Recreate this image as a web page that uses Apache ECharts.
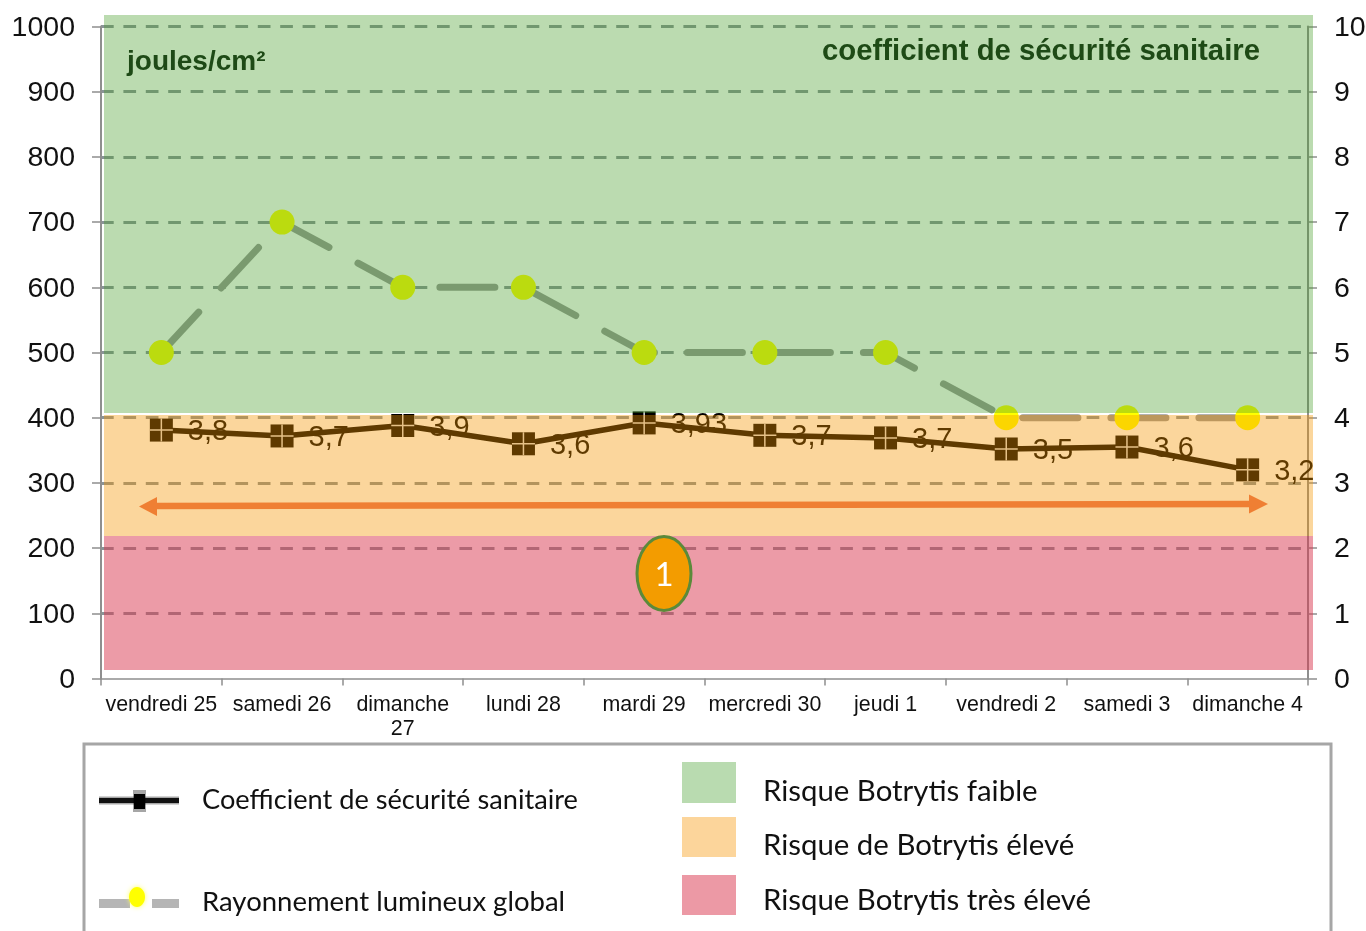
<!DOCTYPE html>
<html><head><meta charset="utf-8">
<style>html,body{margin:0;padding:0;background:#fff;overflow:hidden}#c{width:1366px;height:931px}</style>
<script src="https://cdn.jsdelivr.net/npm/echarts@6/dist/echarts.min.js"></script>
</head><body><div id="c"></div>
<script>
const categories = ['vendredi 25','samedi 26','dimanche\n27','lundi 28','mardi 29','mercredi 30','jeudi 1','vendredi 2','samedi 3','dimanche 4'];
const rayonnement = [500,700,600,600,500,500,500,400,400,400];
const coefficient = [3.81,3.72,3.88,3.6,3.92,3.73,3.69,3.52,3.55,3.2];
const coefficientLabels = ['3,8','3,7','3,9','3,6','3,93','3,7','3,7','3,5','3,6','3,2'];
const leftTicks = [0,1000,100];
const rightTicks = [0,10,1];

const SANS = '"Liberation Sans", Arial, sans-serif';
const LEG = 'Lato, "Open Sans", sans-serif';
const squareSymbol = 'rect';
const crossSymbol = 'path://M0 10.75H10.75V0H12.25V10.75H23V12.25H12.25V23H10.75V12.25H0Z';

const chart = echarts.init(document.getElementById('c'), null, {renderer:'canvas'});
const rect = (x,y,w,h,fill,z)=>({type:'rect',shape:{x,y,width:w,height:h},style:{fill},z:z||100,silent:true});
const txt = (x,y,text,font,fill,align)=>({type:'text',x,y,style:{text,font,fill,textAlign:align||'left',textVerticalAlign:'middle'},z:110,silent:true});

const axisLine = {show:true,lineStyle:{color:'#8f8f8f',width:2}};
const yCommon = {axisTick:{show:true,length:9,lineStyle:{color:'#8f8f8f',width:1.5}},axisLine};
const plain = v=>String(v);

chart.setOption({
  animation:false,
  backgroundColor:'#fff',
  grid:{left:101,right:58,top:26.5,bottom:252.5,containLabel:false,outerBoundsMode:'none'},
  xAxis:{type:'category',data:categories,
    axisLine:{show:true,onZero:false,lineStyle:{color:'#8f8f8f',width:1.5}},
    axisTick:{show:true,length:7,alignWithLabel:false,lineStyle:{color:'#8f8f8f',width:1.5}},
    axisLabel:{interval:0,margin:15,color:'#111',fontFamily:SANS,fontSize:21.4,lineHeight:24,hideOverlap:false}},
  yAxis:[
    Object.assign({type:'value',min:leftTicks[0],max:leftTicks[1],interval:leftTicks[2],
      axisLabel:{margin:26,color:'#111',fontFamily:SANS,fontSize:28.5,formatter:plain,verticalAlign:'top',lineHeight:3},
      splitLine:{show:true,showMinLine:false,lineStyle:{color:'#8a9498',width:3,type:[12.7,9.7]}}},yCommon),
    Object.assign({type:'value',position:'right',min:rightTicks[0],max:rightTicks[1],interval:rightTicks[2],
      axisLabel:{margin:26,color:'#111',fontFamily:SANS,fontSize:28.5,formatter:plain,verticalAlign:'top',lineHeight:3},
      splitLine:{show:false}},yCommon)
  ],
  series:[
    {name:'Rayonnement lumineux global',type:'line',yAxisIndex:0,data:rayonnement,
      symbol:'circle',symbolSize:25,showAllSymbol:true,
      itemStyle:{color:'#ffff00',borderWidth:0},
      lineStyle:{color:'#999999',width:7,type:[55,33],cap:'round',join:'round'},z:3},
    {name:'Coefficient de sécurité sanitaire',type:'line',yAxisIndex:1,data:coefficient,
      symbol:squareSymbol,symbolSize:[23,23],showAllSymbol:true,
      itemStyle:{color:'#000',borderWidth:0},
      lineStyle:{color:'#000',width:5.5},z:4,
      label:{show:true,position:'right',distance:15,offset:[0,2],color:'#000',fontFamily:SANS,fontSize:29,
        formatter:p=>coefficientLabels[p.dataIndex]}},
    {name:'Coefficient repères',type:'line',yAxisIndex:1,data:coefficient,
      symbol:crossSymbol,symbolSize:[23,23],showAllSymbol:true,
      itemStyle:{color:'#dddddd',borderWidth:0},
      lineStyle:{width:0,opacity:0},z:5,silent:true}
  ],
  graphic:{elements:[
    // risk bands laid over the plot
    rect(104,15,1209,398,'rgba(70,157,40,0.37)'),
    rect(104,415,1209,121,'rgba(245,150,0,0.39)'),
    rect(104,536,1209,134,'rgba(218,55,80,0.5)'),
    // chart annotations
    txt(127,62,'joules/cm²','bold 28px '+SANS,'#1e4a16'),
    txt(1260,52,'coefficient de sécurité sanitaire','bold 29.3px '+SANS,'#1e4a16','right'),
    {type:'line',shape:{x1:155,y1:506,x2:1251,y2:504},style:{stroke:'#ef7f33',lineWidth:6.5},z:105,silent:true},
    {type:'polygon',shape:{points:[[139,506.5],[157,497],[157,516]]},style:{fill:'#ef7f33'},z:105,silent:true},
    {type:'polygon',shape:{points:[[1268,504],[1249,494.5],[1249,513.5]]},style:{fill:'#ef7f33'},z:105,silent:true},
    {type:'ellipse',shape:{cx:664,cy:573.5,rx:27,ry:37},style:{fill:'#f39c00',stroke:'#5b8a3a',lineWidth:3},z:106,silent:true},
    txt(664,575,'1','33px '+LEG,'#ffffff','center'),
    // legend box
    {type:'rect',shape:{x:84,y:744,width:1247,height:230},style:{fill:'#fff',stroke:'#a6a6a6',lineWidth:3},z:90,silent:true},
    rect(99,796.5,80,8,'rgba(0,0,0,0.35)',91),
    rect(99,798,80,5,'#111',91),
    rect(133,790,13,22,'rgba(0,0,0,0.35)',91),
    rect(134,794,11,15,'#000',92),
    rect(99,899,31,9,'#b5b5b5',91),
    rect(152,899,27,9,'#b5b5b5',91),
    {type:'ellipse',shape:{cx:137,cy:897,rx:8,ry:10},style:{fill:'#ffff00',shadowBlur:5,shadowColor:'#ffff66'},z:92,silent:true},
    txt(202,800,'Coefficient de sécurité sanitaire','27.2px '+LEG,'#111'),
    txt(202,902,'Rayonnement lumineux global','27.5px '+LEG,'#111'),
    rect(682,762,54,41,'#b9dbb0',91),
    rect(682,817,54,40,'#fcd59b',91),
    rect(682,875,54,40,'#ec99a5',91),
    txt(763,792,'Risque Botrytis faible','29.4px '+LEG,'#111'),
    txt(763,846,'Risque de Botrytis élevé','29.4px '+LEG,'#111'),
    txt(763,901,'Risque Botrytis très élevé','29.4px '+LEG,'#111')
  ]}
});
</script></body></html>
